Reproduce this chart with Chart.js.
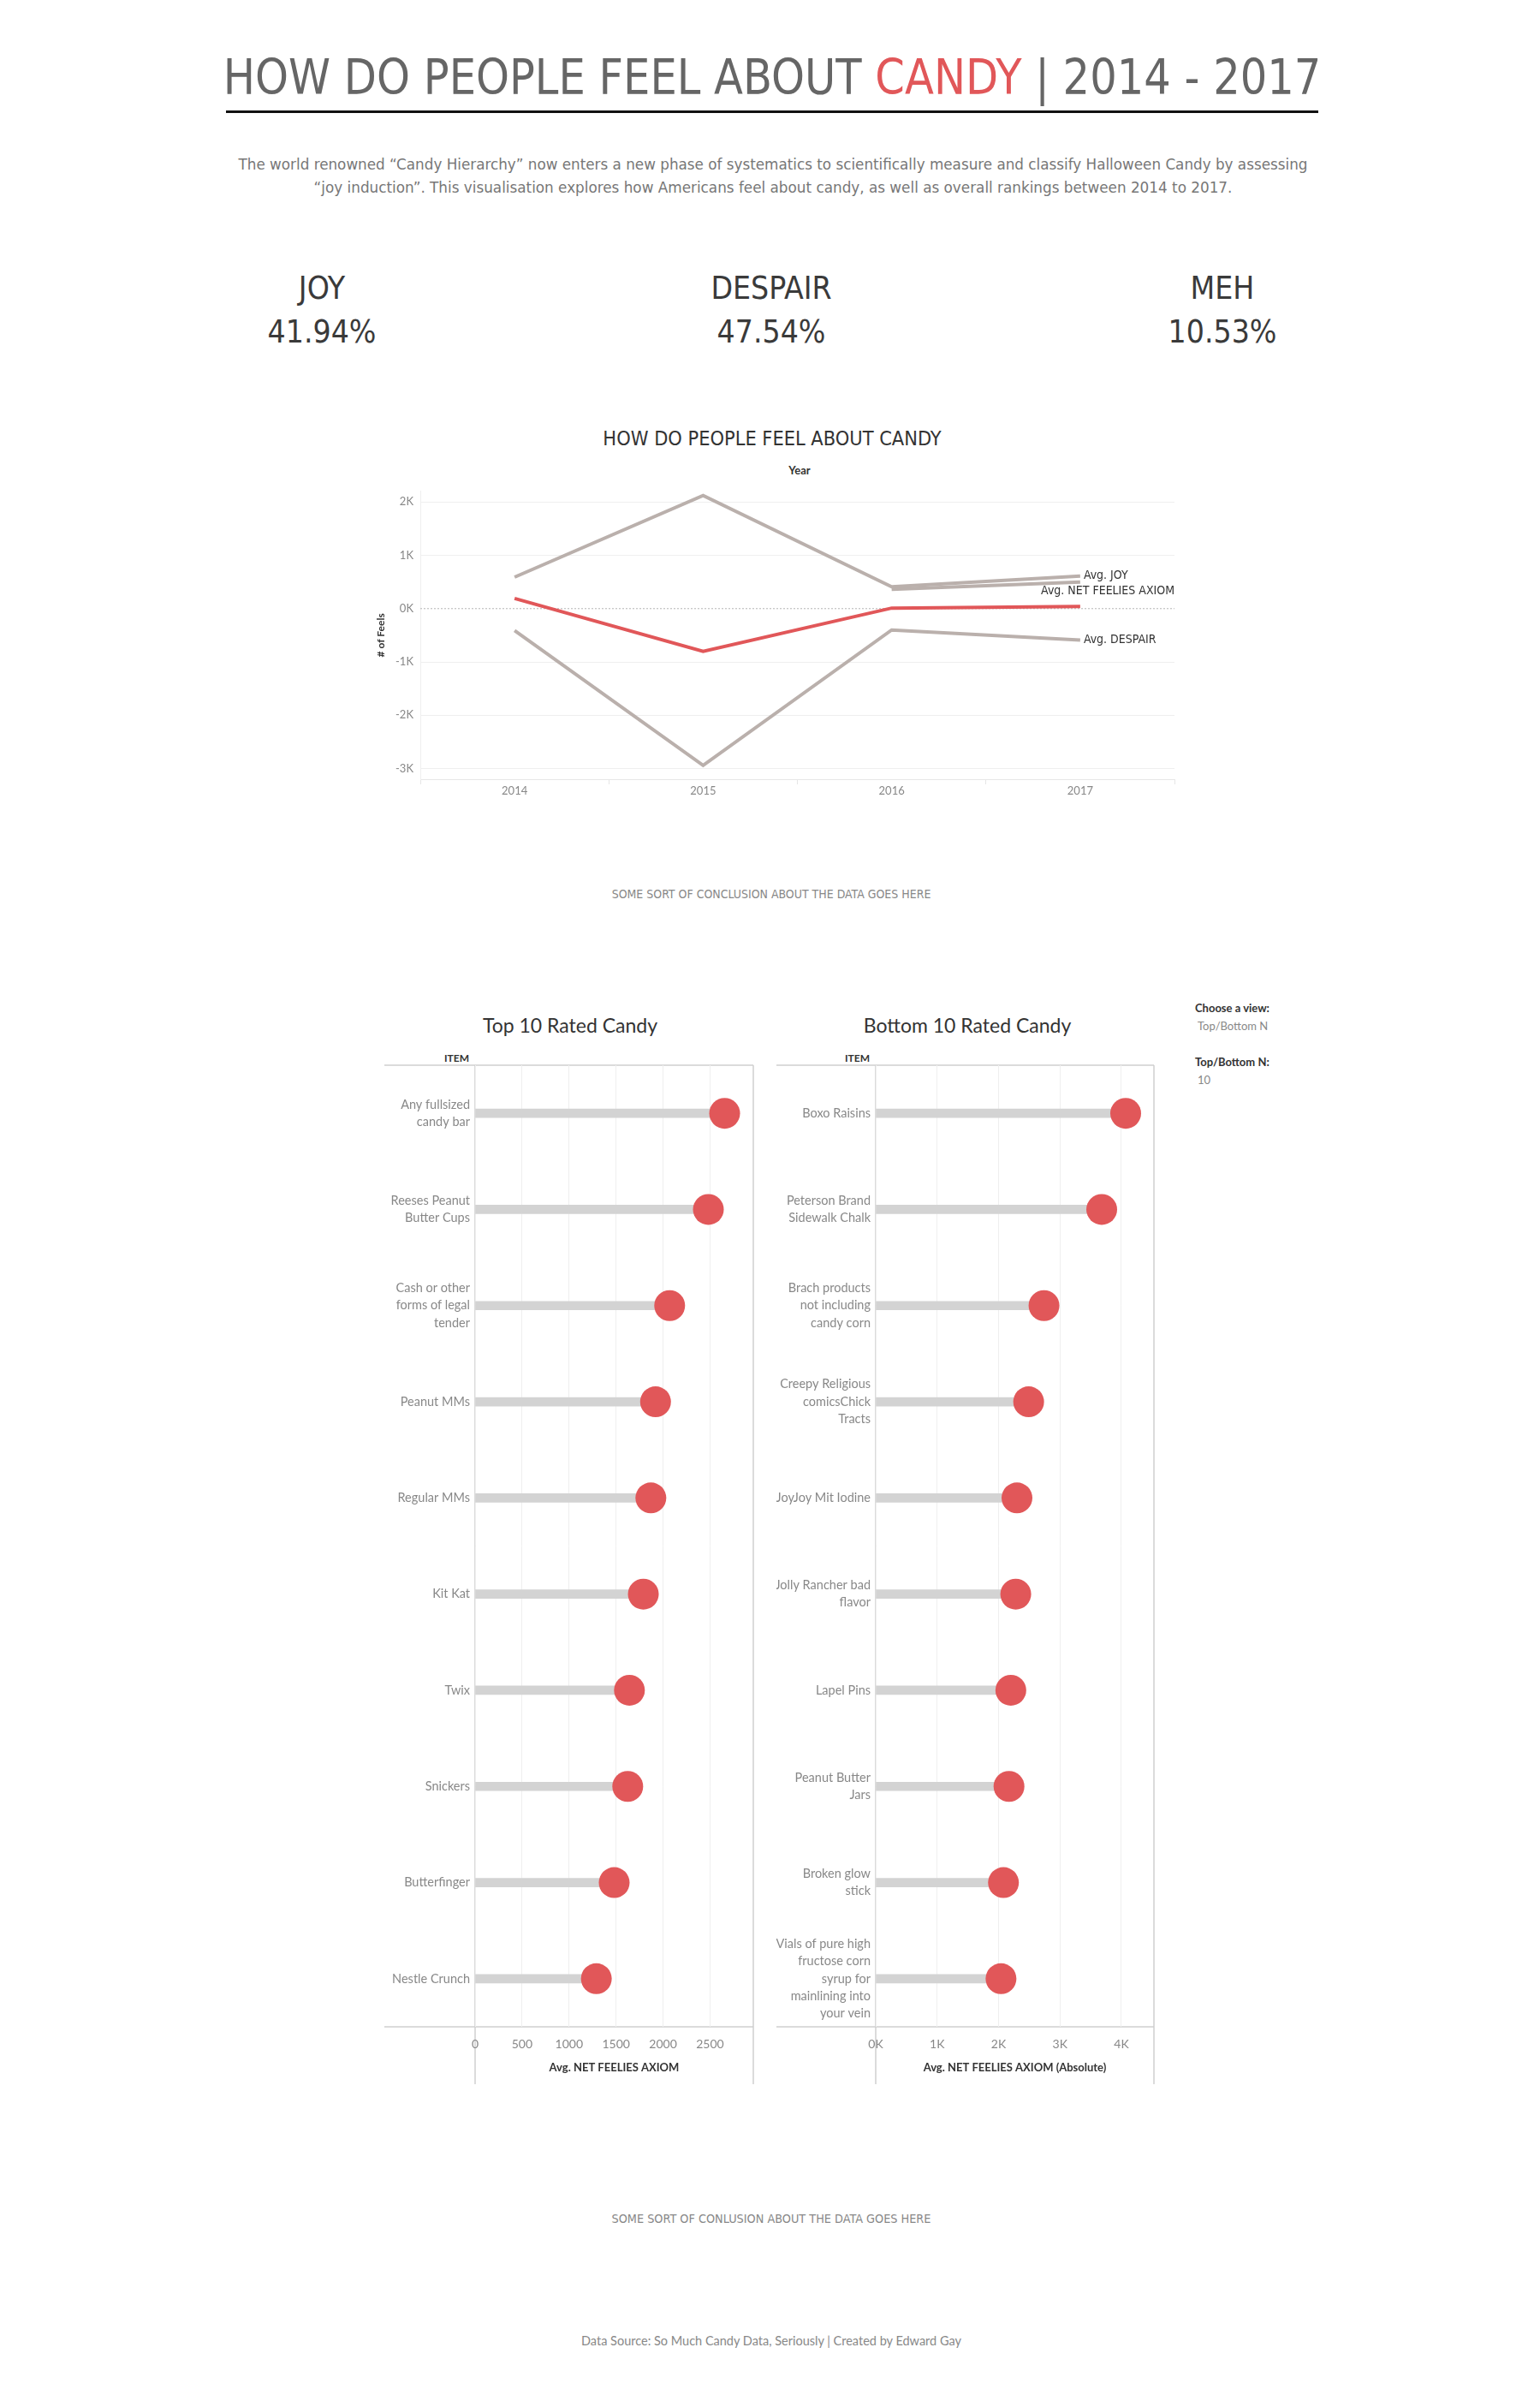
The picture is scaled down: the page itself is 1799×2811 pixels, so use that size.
<!DOCTYPE html>
<html>
<head>
<meta charset="utf-8">
<script src="https://cdn.jsdelivr.net/npm/chart.js@4.4.1/dist/chart.umd.min.js"></script>
<style>
  body { margin: 0; background: #fff; }
  #page { position: relative; width: 1799px; height: 2811px; overflow: hidden; font-family: Lato, "Open Sans", sans-serif; }
  .t { position: absolute; white-space: nowrap; transform: translate(-50%, -50%); }
  .l { position: absolute; white-space: nowrap; transform: translate(0, -50%); }
  .narrow { font-family: "Liberation Sans Narrow", "DejaVu Sans Condensed", sans-serif; }
  .box { position: absolute; }
</style>
</head>
<body>
<div id="page">
  <div class="t narrow" data-w="1283" style="left:902px;top:90px;font-size:57px;color:#666;">HOW DO PEOPLE FEEL ABOUT <span style="color:#e15759">CANDY</span> | 2014 - 2017</div>
  <div class="box" style="left:264px;top:129px;width:1276px;height:3px;background:#111;"></div>
  <div class="t narrow" data-w="1249" style="left:903px;top:191px;font-size:18px;color:#777;">The world renowned “Candy Hierarchy” now enters a new phase of systematics to scientifically measure and classify Halloween Candy by assessing</div>
  <div class="t narrow" data-w="1073" style="left:903px;top:218px;font-size:18px;color:#777;">“joy induction”. This visualisation explores how Americans feel about candy, as well as overall rankings between 2014 to 2017.</div>

  <div class="t narrow" style="left:376px;top:336px;font-size:37px;color:#3a3a3a;">JOY</div>
  <div class="t narrow" style="left:376px;top:387px;font-size:37px;color:#3a3a3a;">41.94%</div>
  <div class="t narrow" style="left:901px;top:336px;font-size:37px;color:#3a3a3a;">DESPAIR</div>
  <div class="t narrow" style="left:901px;top:387px;font-size:37px;color:#3a3a3a;">47.54%</div>
  <div class="t narrow" style="left:1428px;top:336px;font-size:37px;color:#3a3a3a;">MEH</div>
  <div class="t narrow" style="left:1428px;top:387px;font-size:37px;color:#3a3a3a;">10.53%</div>

  <div class="t narrow" data-w="395" style="left:902px;top:512px;font-size:23px;color:#333;">HOW DO PEOPLE FEEL ABOUT CANDY</div>
  <div class="t" style="left:934px;top:549px;font-size:13px;font-weight:bold;color:#333;">Year</div>
  <div class="box" style="left:420px;top:558px;width:980px;height:385px;"><canvas id="lineChart"></canvas></div>

  <div class="t narrow" data-w="373" style="left:901px;top:1044px;font-size:14px;color:#888;">SOME SORT OF CONCLUSION ABOUT THE DATA GOES HERE</div>

  <div class="t" style="left:666px;top:1197px;font-size:23px;color:#333;">Top 10 Rated Candy</div>
  <div class="t" style="left:1130px;top:1197px;font-size:23px;color:#333;">Bottom 10 Rated Candy</div>
  <div class="l" style="right:1251px;top:1235px;font-size:12px;font-weight:bold;color:#333;">ITEM</div>
  <div class="l" style="right:783px;top:1235px;font-size:12px;font-weight:bold;color:#333;">ITEM</div>
  <div class="box" style="left:449px;top:1240px;width:432px;height:1194px;"><canvas id="topChart"></canvas></div>
  <div class="box" style="left:907px;top:1240px;width:442px;height:1194px;"><canvas id="bottomChart"></canvas></div>

  <div class="l" style="left:1396px;top:1177px;font-size:13px;font-weight:bold;color:#333;">Choose a view:</div>
  <div class="l" style="left:1399px;top:1198px;font-size:13px;color:#888;">Top/Bottom N</div>
  <div class="l" style="left:1396px;top:1240px;font-size:13px;font-weight:bold;color:#333;">Top/Bottom N:</div>
  <div class="l" style="left:1399px;top:1261px;font-size:13px;color:#888;">10</div>

  <div class="t narrow" data-w="373" style="left:901px;top:2591px;font-size:14px;color:#888;">SOME SORT OF CONLUSION ABOUT THE DATA GOES HERE</div>
  <div class="t" style="left:901px;top:2733px;font-size:14.5px;color:#888;">Data Source: So Much Candy Data, Seriously | Created by Edward Gay</div>
</div>

<script>
// line chart data
var years = ['2014', '2015', '2016', '2017']
var netFeelies = [190, -800, 10, 40]
var joyVals = [590, 2120, 410, 610]
var despairVals = [-410, -2940, -400, -590]
var mehVals = [null, null, 360, 500]
var feelsTicks = [-3000, -2000, -1000, 0, 1000, 2000]

// top 10 / bottom 10
var topItems = [['Any fullsized', 'candy bar'], ['Reeses Peanut', 'Butter Cups'], ['Cash or other', 'forms of legal', 'tender'],
   'Peanut MMs', 'Regular MMs', 'Kit Kat', 'Twix', 'Snickers', 'Butterfinger', 'Nestle Crunch']
var topValues = [2655, 2482, 2070, 1920, 1870, 1790, 1642, 1624, 1480, 1290]
var topTicks = [0, 500, 1000, 1500, 2000, 2500]

var bottomItems = ['Boxo Raisins', ['Peterson Brand', 'Sidewalk Chalk'], ['Brach products', 'not including', 'candy corn'],
   ['Creepy Religious', 'comicsChick', 'Tracts'], 'JoyJoy Mit Iodine', ['Jolly Rancher bad', 'flavor'], 'Lapel Pins',
   ['Peanut Butter', 'Jars'], ['Broken glow', 'stick'], ['Vials of pure high', 'fructose corn', 'syrup for', 'mainlining into', 'your vein']]
var bottomValues = [4070, 3680, 2740, 2490, 2300, 2280, 2200, 2170, 2080, 2040]
var bottomTicks = [0, 1000, 2000, 3000, 4000]

var RED = '#e15759'
var GREY = '#bab0ac'

// squeeze the narrow text to the width it has in the picture
document.querySelectorAll('[data-w]').forEach(function(el){
   var k = el.dataset.w / el.offsetWidth
   el.style.transform = 'translate(-50%, -50%) scaleX(' + k + ')'
})

Chart.defaults.font.family = 'Lato, "Open Sans", sans-serif'
Chart.defaults.animation = false

function fixTicks(list){
   return function(scale){
      scale.ticks = list.map(function(v){ return {value: v} })
   }
}

// zero line + end labels for the line chart
var lineExtras = {
   id: 'lineExtras',
   beforeDatasetsDraw(chart){
      const c = chart.ctx, y = chart.scales.y.getPixelForValue(0), a = chart.chartArea
      c.save()
      c.strokeStyle = '#b5b5b5'
      c.lineWidth = 1
      c.setLineDash([2, 2])
      c.beginPath(); c.moveTo(a.left, y); c.lineTo(a.right, y); c.stroke()
      c.restore()
   },
   afterDatasetsDraw(chart){
      const c = chart.ctx
      c.save()
      c.font = '14px "Liberation Sans Narrow", "DejaVu Sans Condensed", sans-serif'
      c.fillStyle = '#333'
      c.textBaseline = 'middle'
      chart.data.datasets.forEach(function(ds, i){
         if (!ds.endLabel) return
         const pts = chart.getDatasetMeta(i).data
         const p = pts[pts.length - 1]
         if (ds.endAlign === 'right') {
            c.textAlign = 'right'
            c.fillText(ds.endLabel, chart.chartArea.right, p.y - 18)
         } else {
            c.textAlign = 'left'
            c.fillText(ds.endLabel, p.x + 4, p.y)
         }
      })
      c.restore()
   }
}

new Chart(document.getElementById('lineChart'), {
   type: 'line',
   data: {
      labels: years,
      datasets: [
         {label: 'Avg. NET FEELIES AXIOM', data: netFeelies, borderColor: RED, endLabel: 'Avg. NET FEELIES AXIOM', endAlign: 'right'},
         {label: 'Avg. JOY', data: joyVals, borderColor: GREY, endLabel: 'Avg. JOY'},
         {label: 'Avg. MEH', data: mehVals, borderColor: GREY},
         {label: 'Avg. DESPAIR', data: despairVals, borderColor: GREY, endLabel: 'Avg. DESPAIR'}
      ]
   },
   options: {
      responsive: true,
      maintainAspectRatio: false,
      layout: {padding: {top: 12, right: 28}},
      elements: {line: {borderWidth: 4, tension: 0}, point: {radius: 0, hoverRadius: 0}},
      plugins: {legend: {display: false}, tooltip: {enabled: false}},
      scales: {
         x: {
            offset: true,
            grid: {offset: true, drawOnChartArea: false, tickLength: 6, color: '#e6e6e6'},
            border: {color: '#e6e6e6'},
            ticks: {color: '#888', font: {size: 13}, padding: 0},
            afterFit: function(s){ s.height = 33 }
         },
         y: {
            min: -3200, max: 2200,
            afterBuildTicks: fixTicks(feelsTicks),
            grid: {color: function(ctx){ return ctx.tick && ctx.tick.value === 0 ? 'rgba(0,0,0,0)' : '#efefef' }, drawTicks: false},
            border: {color: '#efefef'},
            ticks: {color: '#888', font: {size: 13}, padding: 8, callback: function(v){ return (v / 1000) + 'K' }},
            title: {display: true, text: '# of Feels', color: '#333', font: {size: 12, weight: 'bold'}, padding: {top: 18, bottom: 0}},
            afterFit: function(s){ s.width = 71 }
         }
      }
   },
   plugins: [lineExtras]
})

// panel frame around the lollipop charts
var panelFrame = {
   id: 'panelFrame',
   beforeDraw(chart){
      const c = chart.ctx, a = chart.chartArea, h = chart.height
      c.save()
      c.strokeStyle = '#cfcfcf'
      c.lineWidth = 1.5
      c.beginPath()
      c.moveTo(0, a.top); c.lineTo(a.right, a.top)
      c.moveTo(0, a.bottom); c.lineTo(a.right, a.bottom)
      c.moveTo(a.left, a.top); c.lineTo(a.left, h)
      c.moveTo(a.right, a.top); c.lineTo(a.right, h)
      c.stroke()
      c.restore()
   }
}

function lollipop(canvasId, items, values, maxVal, ticksList, labelWidth, axisTitle, tickFmt){
   return new Chart(document.getElementById(canvasId), {
      type: 'bar',
      data: {
         labels: items,
         datasets: [
            {type: 'line', indexAxis: 'y', data: values, showLine: false, pointRadius: 18, pointHoverRadius: 18,
             pointBackgroundColor: RED, pointBorderWidth: 0, clip: false},
            {type: 'bar', indexAxis: 'y', data: values, backgroundColor: '#d3d3d3', barThickness: 10}
         ]
      },
      options: {
         indexAxis: 'y',
         responsive: true,
         maintainAspectRatio: false,
         layout: {autoPadding: false, padding: {top: 4, right: 1}},
         plugins: {legend: {display: false}, tooltip: {enabled: false}},
         scales: {
            x: {
               min: 0, max: maxVal,
               afterBuildTicks: fixTicks(ticksList),
               grid: {color: '#efefef', drawTicks: false},
               border: {display: false},
               ticks: {color: '#888', font: {size: 14}, padding: 12, callback: tickFmt},
               title: {display: true, text: axisTitle, color: '#333', font: {size: 13, weight: 'bold'}, padding: {top: 0, bottom: 11}},
               afterFit: function(s){ s.height = 67; s.paddingLeft = 0; s.paddingRight = 0 }
            },
            y: {
               grid: {display: false, drawTicks: false, tickLength: 0},
               border: {display: false},
               ticks: {color: '#888', font: {size: 14.5, lineHeight: 1.4}, padding: 6, autoSkip: false},
               afterFit: function(s){ s.width = labelWidth; s.paddingTop = 0; s.paddingBottom = 0 }
            }
         }
      },
      plugins: [panelFrame]
   })
}

lollipop('topChart', topItems, topValues, 2960, topTicks, 106, 'Avg. NET FEELIES AXIOM', function(v){ return v })
lollipop('bottomChart', bottomItems, bottomValues, 4530, bottomTicks, 116, 'Avg. NET FEELIES AXIOM (Absolute)', function(v){ return (v / 1000) + 'K' })
</script>
</body>
</html>
